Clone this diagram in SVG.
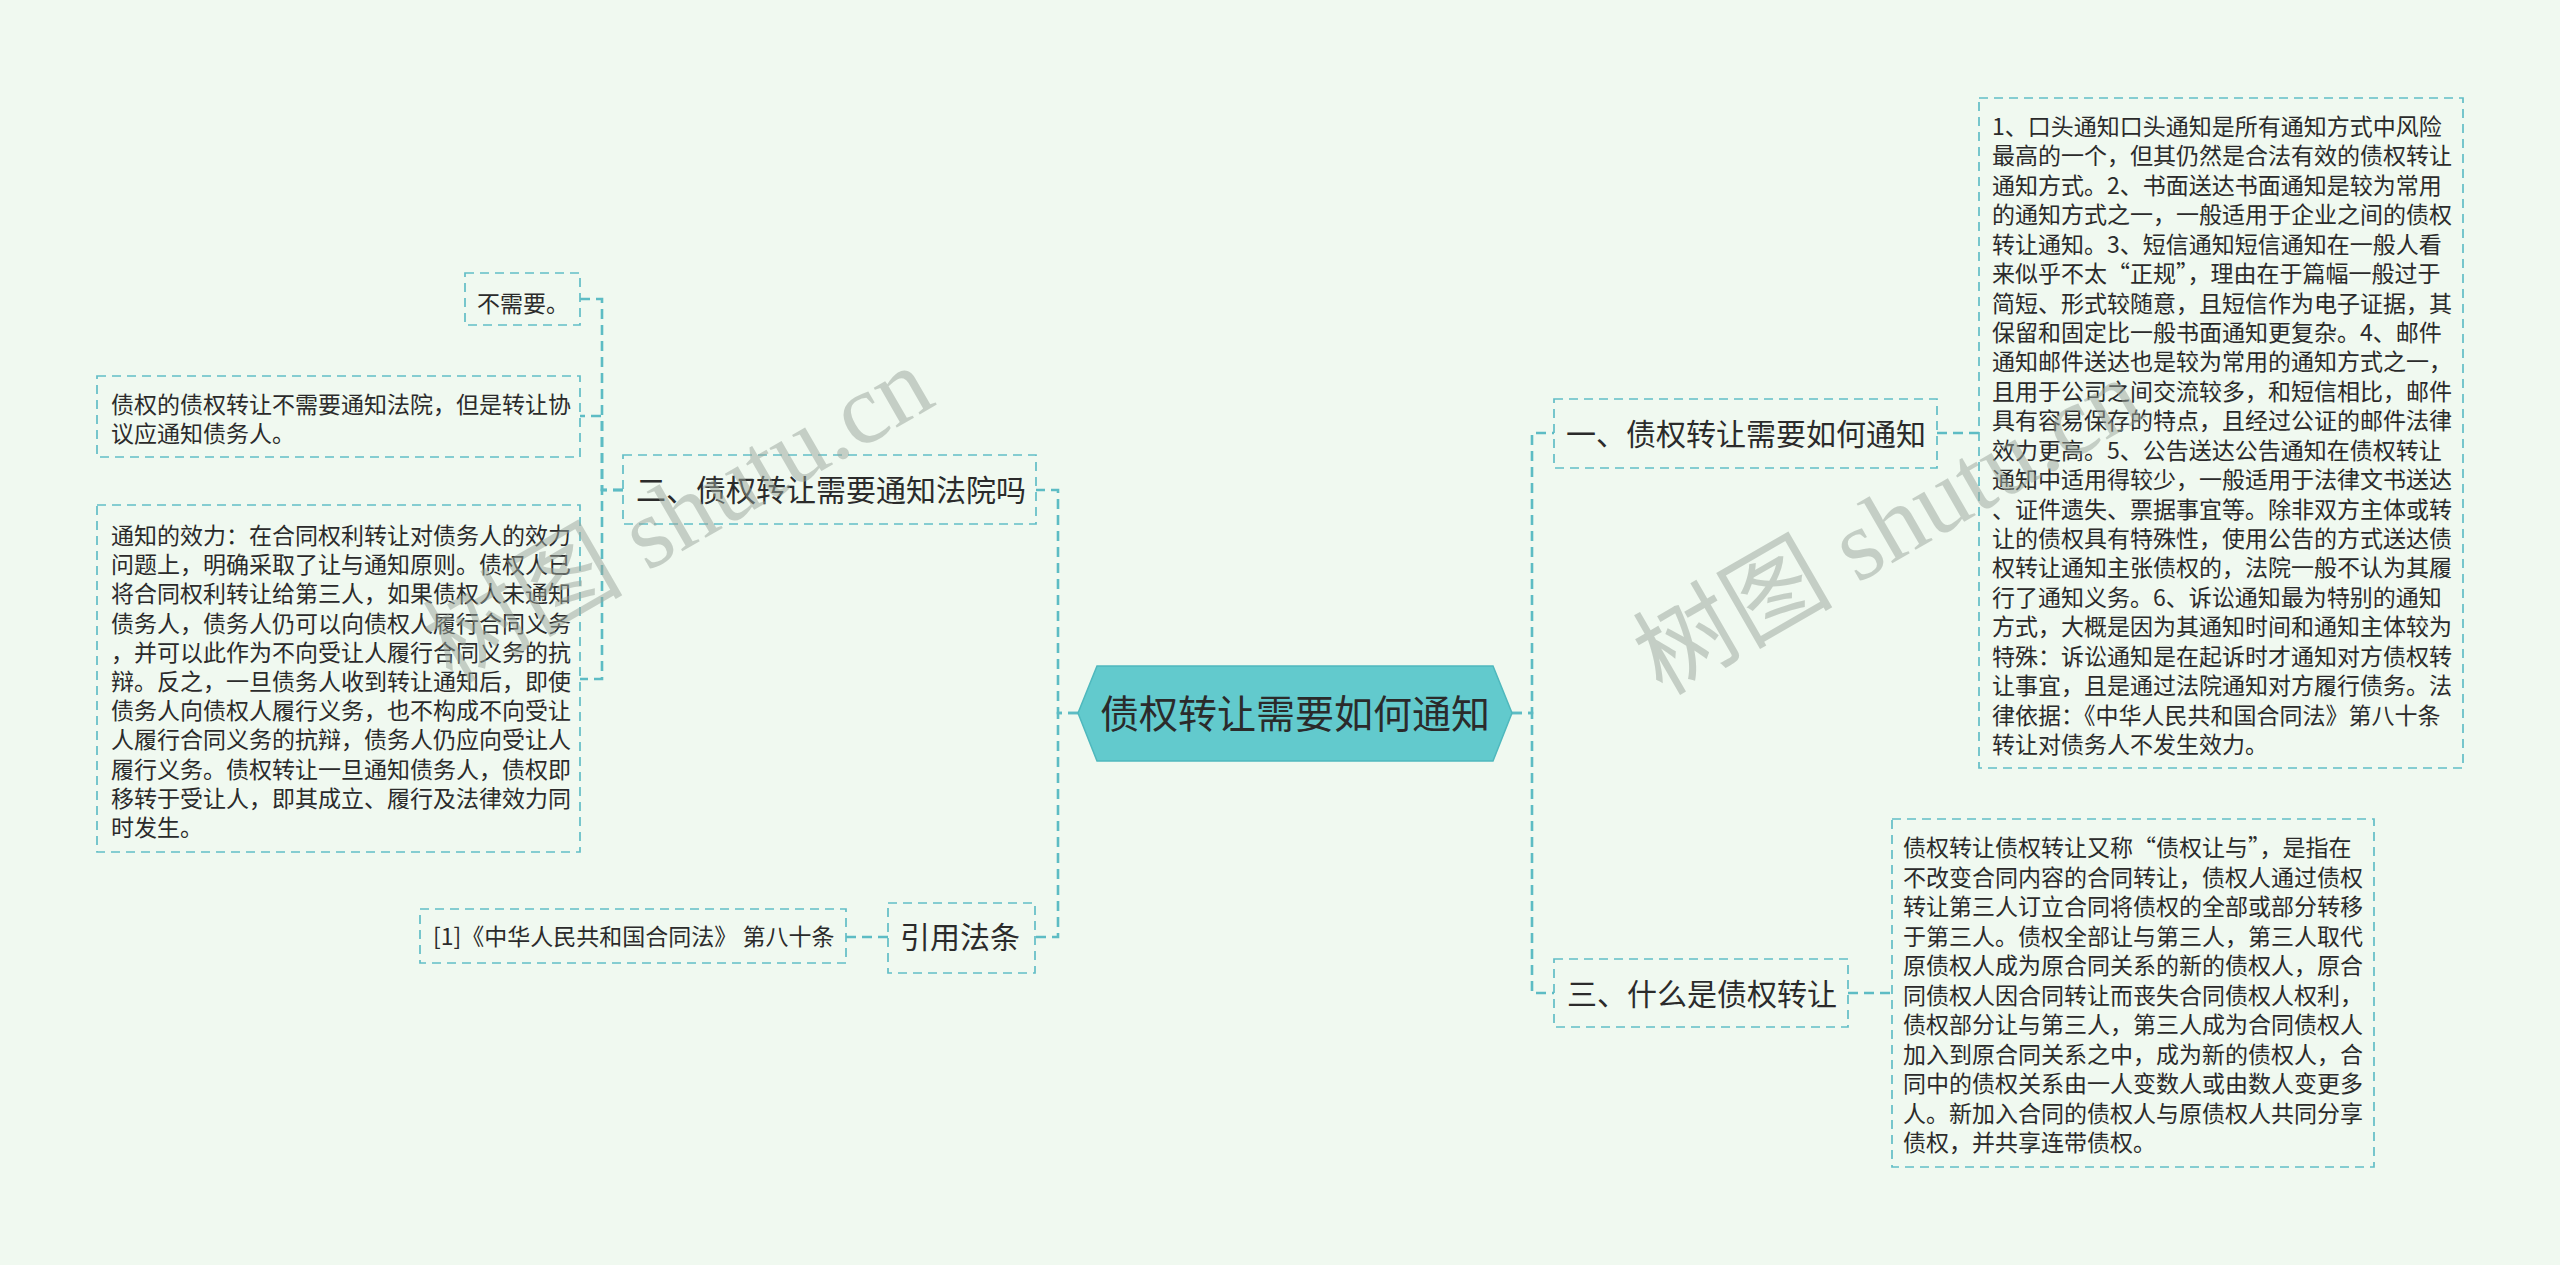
<svg xmlns="http://www.w3.org/2000/svg" width="2560" height="1265" viewBox="0 0 2560 1265">
<style>
.bg{fill:#F0F9F0}
.box{fill:none;stroke:#62BEC6;stroke-width:1.7;stroke-dasharray:9 6}
.con{fill:none;stroke:#5DBCC4;stroke-width:2.6;stroke-dasharray:10 6}
.t{font-family:"Noto Sans CJK SC","Noto Sans",sans-serif;fill:#2b2b2b}
.leaf{font-size:23px}
.mid{font-size:30px}
.wm{font-family:"Liberation Serif","Noto Sans CJK SC",serif;font-size:100px;fill:#9aa59b;opacity:0.5}
</style>
<rect class="bg" x="0" y="0" width="2560" height="1265"/>
<g id="connectors">
<path class="con" d="M1512,713 H1532 V433 H1554"/>
<path class="con" d="M1512,713 H1532 V993 H1554"/>
<path class="con" d="M1078,713 H1058 V490 H1036"/>
<path class="con" d="M1078,713 H1058 V937 H1035"/>
<path class="con" d="M623,490 H602 V299 H580"/>
<path class="con" d="M623,490 H602 V416 H580"/>
<path class="con" d="M623,490 H602 V679 H580"/>
<path class="con" d="M888,937 H846"/>
<path class="con" d="M1937,433 H1979"/>
<path class="con" d="M1848,993 H1892"/>
</g>
<g id="root">
<polygon points="1078,713 1097,666 1493,666 1512,713 1493,761 1097,761" fill="#62CACD" stroke="#4fb8bd" stroke-width="1.5"/>
<text class="t" x="1295" y="728" font-size="39" text-anchor="middle" fill="#1e2e2e">债权转让需要如何通知</text>
</g>
<g id="n1">
<rect class="box" x="1554" y="399" width="383" height="69"/>
<text class="t mid" x="1566" y="445">一、债权转让需要如何通知</text>
</g>
<g id="n1-leaf">
<rect class="box" x="1979" y="98" width="484" height="670"/>
<text class="t leaf" x="1992" y="135">
<tspan x="1992" dy="0">1、口头通知口头通知是所有通知方式中风险</tspan>
<tspan x="1992" dy="29.43">最高的一个，但其仍然是合法有效的债权转让</tspan>
<tspan x="1992" dy="29.43">通知方式。2、书面送达书面通知是较为常用</tspan>
<tspan x="1992" dy="29.43">的通知方式之一，一般适用于企业之间的债权</tspan>
<tspan x="1992" dy="29.43">转让通知。3、短信通知短信通知在一般人看</tspan>
<tspan x="1992" dy="29.43">来似乎不太“正规”，理由在于篇幅一般过于</tspan>
<tspan x="1992" dy="29.43">简短、形式较随意，且短信作为电子证据，其</tspan>
<tspan x="1992" dy="29.43">保留和固定比一般书面通知更复杂。4、邮件</tspan>
<tspan x="1992" dy="29.43">通知邮件送达也是较为常用的通知方式之一，</tspan>
<tspan x="1992" dy="29.43">且用于公司之间交流较多，和短信相比，邮件</tspan>
<tspan x="1992" dy="29.43">具有容易保存的特点，且经过公证的邮件法律</tspan>
<tspan x="1992" dy="29.43">效力更高。5、公告送达公告通知在债权转让</tspan>
<tspan x="1992" dy="29.43">通知中适用得较少，一般适用于法律文书送达</tspan>
<tspan x="1992" dy="29.43">、证件遗失、票据事宜等。除非双方主体或转</tspan>
<tspan x="1992" dy="29.43">让的债权具有特殊性，使用公告的方式送达债</tspan>
<tspan x="1992" dy="29.43">权转让通知主张债权的，法院一般不认为其履</tspan>
<tspan x="1992" dy="29.43">行了通知义务。6、诉讼通知最为特别的通知</tspan>
<tspan x="1992" dy="29.43">方式，大概是因为其通知时间和通知主体较为</tspan>
<tspan x="1992" dy="29.43">特殊：诉讼通知是在起诉时才通知对方债权转</tspan>
<tspan x="1992" dy="29.43">让事宜，且是通过法院通知对方履行债务。法</tspan>
<tspan x="1992" dy="29.43">律依据：《中华人民共和国合同法》第八十条</tspan>
<tspan x="1992" dy="29.43">转让对债务人不发生效力。</tspan>
</text>
</g>
<g id="n3">
<rect class="box" x="1554" y="959" width="294" height="68"/>
<text class="t mid" x="1567" y="1005">三、什么是债权转让</text>
</g>
<g id="n3-leaf">
<rect class="box" x="1892" y="819" width="482" height="348"/>
<text class="t leaf" x="1903" y="856">
<tspan x="1903" dy="0">债权转让债权转让又称“债权让与”，是指在</tspan>
<tspan x="1903" dy="29.5">不改变合同内容的合同转让，债权人通过债权</tspan>
<tspan x="1903" dy="29.5">转让第三人订立合同将债权的全部或部分转移</tspan>
<tspan x="1903" dy="29.5">于第三人。债权全部让与第三人，第三人取代</tspan>
<tspan x="1903" dy="29.5">原债权人成为原合同关系的新的债权人，原合</tspan>
<tspan x="1903" dy="29.5">同债权人因合同转让而丧失合同债权人权利，</tspan>
<tspan x="1903" dy="29.5">债权部分让与第三人，第三人成为合同债权人</tspan>
<tspan x="1903" dy="29.5">加入到原合同关系之中，成为新的债权人，合</tspan>
<tspan x="1903" dy="29.5">同中的债权关系由一人变数人或由数人变更多</tspan>
<tspan x="1903" dy="29.5">人。新加入合同的债权人与原债权人共同分享</tspan>
<tspan x="1903" dy="29.5">债权，并共享连带债权。</tspan>
</text>
</g>
<g id="n2">
<rect class="box" x="623" y="455" width="413" height="69"/>
<text class="t mid" x="636" y="501">二、债权转让需要通知法院吗</text>
</g>
<g id="n2-leaf1">
<rect class="box" x="465" y="273" width="115" height="52"/>
<text class="t leaf" x="477" y="312">不需要。</text>
</g>
<g id="n2-leaf2">
<rect class="box" x="97" y="376" width="483" height="81"/>
<text class="t leaf" x="111" y="413">
<tspan x="111" dy="0">债权的债权转让不需要通知法院，但是转让协</tspan>
<tspan x="111" dy="29.2">议应通知债务人。</tspan>
</text>
</g>
<g id="n2-leaf3">
<rect class="box" x="97" y="505" width="483" height="347"/>
<text class="t leaf" x="111" y="544">
<tspan x="111" dy="0">通知的效力：在合同权利转让对债务人的效力</tspan>
<tspan x="111" dy="29.2">问题上，明确采取了让与通知原则。债权人已</tspan>
<tspan x="111" dy="29.2">将合同权利转让给第三人，如果债权人未通知</tspan>
<tspan x="111" dy="29.2">债务人，债务人仍可以向债权人履行合同义务</tspan>
<tspan x="111" dy="29.2">，并可以此作为不向受让人履行合同义务的抗</tspan>
<tspan x="111" dy="29.2">辩。反之，一旦债务人收到转让通知后，即使</tspan>
<tspan x="111" dy="29.2">债务人向债权人履行义务，也不构成不向受让</tspan>
<tspan x="111" dy="29.2">人履行合同义务的抗辩，债务人仍应向受让人</tspan>
<tspan x="111" dy="29.2">履行义务。债权转让一旦通知债务人，债权即</tspan>
<tspan x="111" dy="29.2">移转于受让人，即其成立、履行及法律效力同</tspan>
<tspan x="111" dy="29.2">时发生。</tspan>
</text>
</g>
<g id="n4">
<rect class="box" x="888" y="903" width="147" height="70"/>
<text class="t mid" x="900" y="948">引用法条</text>
</g>
<g id="n4-leaf">
<rect class="box" x="420" y="909" width="426" height="54"/>
<text class="t leaf" x="433" y="945">[1]《中华人民共和国合同法》 第八十条</text>
</g>
<g id="watermarks">
<text class="wm" x="680" y="548" text-anchor="middle" transform="rotate(-30 680 518)">树图 shutu.cn</text>
<text class="wm" x="1890" y="560" text-anchor="middle" transform="rotate(-30 1890 530)">树图 shutu.cn</text>
</g>
</svg>
